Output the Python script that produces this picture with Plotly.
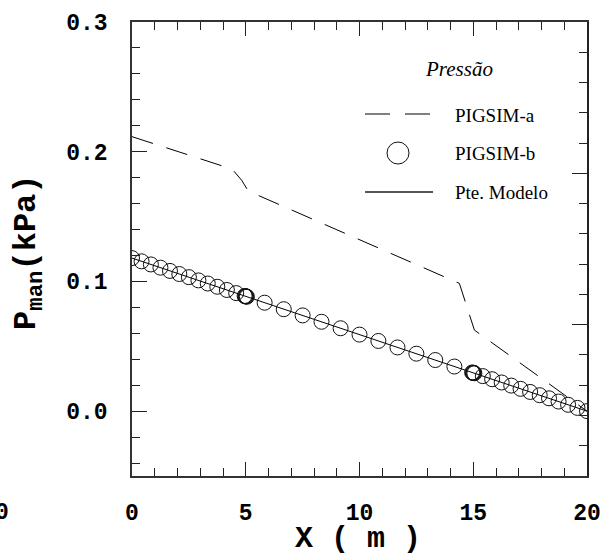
import plotly.graph_objects as go

# ---- data ----
x_pigsim_a = [0.0, 4.4, 4.82, 5.11, 14.39, 15.05, 20.0]
p_pigsim_a = [0.2116, 0.1866, 0.178, 0.1697, 0.0985, 0.0625, 0.0]

x_pigsim_b = [0.0, 0.42, 0.83, 1.25, 1.67, 2.08, 2.5, 2.92, 3.33, 3.75, 4.17, 4.58,
              4.95, 4.98, 5.0, 5.02, 5.05,
              5.83, 6.67, 7.5, 8.33, 9.17, 10.0, 10.83, 11.67, 12.5, 13.33, 14.17,
              14.95, 14.98, 15.0, 15.02, 15.05,
              15.42, 15.83, 16.25, 16.67, 17.08, 17.5, 17.92, 18.33, 18.75, 19.17, 19.58, 20.0]
p_pigsim_b = [0.118, 0.1155, 0.1131, 0.1106, 0.1081, 0.1057, 0.1033, 0.1008, 0.0984, 0.0959, 0.0934, 0.0910,
              0.0888, 0.0886, 0.0885, 0.0884, 0.0882,
              0.0836, 0.0786, 0.0738, 0.0689, 0.0639, 0.0590, 0.0541, 0.0491, 0.0443, 0.0394, 0.0344,
              0.0298, 0.0296, 0.0295, 0.0294, 0.0292,
              0.0270, 0.0246, 0.0221, 0.0197, 0.0172, 0.0148, 0.0123, 0.0099, 0.0074, 0.0049, 0.0025, 0.0]

x_modelo = [0.0, 20.0]
p_modelo = [0.118, 0.0]

x_tickvals = [0, 5, 10, 15, 20]
y_tickvals = [0.0, 0.1, 0.2, 0.3]
y_ticktext = ["0.0", "0.1", "0.2", "0.3"]

x_title = "X ( m )"
y_title = "P<sub>man</sub>(kPa)"
legend_title = "Pressão"
legend_labels = ["PIGSIM-a", "PIGSIM-b", "Pte. Modelo"]

# ---- layout geometry ----
W, H = 610, 558
L, R, T, B = 132, 23, 22, 82
PW, PH = W - L - R, H - T - B


def px(xp):
    return (xp - L) / PW


def py(yp):
    return (H - B - yp) / PH


mono = "Liberation Mono"
serif = "Liberation Serif"

fig = go.Figure()
fig.add_trace(go.Scatter(x=x_pigsim_a, y=p_pigsim_a, mode="lines",
                         line=dict(color="black", width=1, dash="22px,14px"),
                         showlegend=False))
fig.add_trace(go.Scatter(x=x_modelo, y=p_modelo, mode="lines",
                         line=dict(color="black", width=1), showlegend=False))
fig.add_trace(go.Scatter(x=x_pigsim_b, y=p_pigsim_b, mode="markers",
                         marker=dict(symbol="circle-open", size=15,
                                     color="#111", line=dict(width=1, color="#111")),
                         showlegend=False))
fig.add_trace(go.Scatter(x=[None], y=[None], yaxis="y2", showlegend=False,
                         hoverinfo="skip"))

axis_line = dict(showline=True, linecolor="#333", linewidth=1.5)

fig.update_layout(
    width=W, height=H,
    margin=dict(l=L, r=R, t=T, b=B),
    plot_bgcolor="white", paper_bgcolor="white",
    showlegend=False,
    xaxis=dict(range=[0, 20], tickvals=x_tickvals, ticks="inside", ticklen=14,
               tickcolor="#222", tickwidth=1, mirror="ticks", automargin=False,
               minor=dict(dtick=1, ticks="inside", ticklen=8, tickcolor="#222"),
               showgrid=False, zeroline=False,
               tickfont=dict(family=mono, size=23, color="black", weight="bold"),
               ticklabelstandoff=15,
               **axis_line),
    yaxis=dict(range=[-0.05, 0.3], tickvals=y_tickvals, ticktext=y_ticktext,
               ticks="inside", ticklen=15, tickcolor="#222", tickwidth=1, automargin=False,
               minor=dict(dtick=0.02, tick0=0, ticks="inside", ticklen=8, tickcolor="#222"),
               showgrid=False, zeroline=False,
               tickfont=dict(family=mono, size=23, color="black", weight="bold"),
               ticklabelstandoff=18,
               **axis_line),
    yaxis2=dict(overlaying="y", side="right", range=[0, 3], dtick=1, automargin=False,
                ticks="inside", ticklen=15, tickcolor="#222",
                minor=dict(dtick=0.2, ticks="inside", ticklen=8, tickcolor="#222"),
                showticklabels=False, showgrid=False, zeroline=False,
                showline=True, linecolor="#222", linewidth=1.5),
)

# axis titles
fig.add_annotation(xref="paper", yref="paper", x=px(358), y=py(557),
                   text=x_title, showarrow=False, xanchor="center", yanchor="bottom",
                   borderpad=0,
                   font=dict(family=mono, size=30, color="black", weight="bold"))
fig.add_annotation(xref="paper", yref="paper", x=px(29), y=py(252),
                   text=y_title, showarrow=False, xanchor="center", yanchor="middle",
                   textangle=-90,
                   font=dict(family=mono, size=32, color="black", weight="bold"))

# legend glyphs (drawn in paper space)
fig.add_shape(type="line", xref="paper", yref="paper",
              x0=px(365), x1=px(434), y0=py(114), y1=py(114),
              line=dict(color="black", width=1, dash="25px,15px"))
fig.add_shape(type="circle", xref="paper", yref="paper",
              x0=px(387), x1=px(409), y0=py(164), y1=py(142),
              line=dict(color="#111", width=1))
fig.add_shape(type="line", xref="paper", yref="paper",
              x0=px(365), x1=px(433), y0=py(192), y1=py(192),
              line=dict(color="#555", width=2))

fig.add_annotation(xref="paper", yref="paper", x=px(459), y=py(69),
                   text=legend_title, showarrow=False, xanchor="center", yanchor="middle",
                   font=dict(family=serif, size=21, style="italic", color="black"))
for lab, yy in zip(legend_labels, [115, 153, 192]):
    fig.add_annotation(xref="paper", yref="paper", x=px(453), y=py(yy),
                       text=lab, showarrow=False, xanchor="left", yanchor="middle",
                       font=dict(family=serif, size=19, color="black"))

# stray label at far left of the tick-label row
fig.add_annotation(xref="paper", yref="paper", x=px(2), y=py(513),
                   text="0", showarrow=False, xanchor="center", yanchor="middle",
                   font=dict(family=mono, size=23, color="black", weight="bold"))

fig.write_html("out.html")
